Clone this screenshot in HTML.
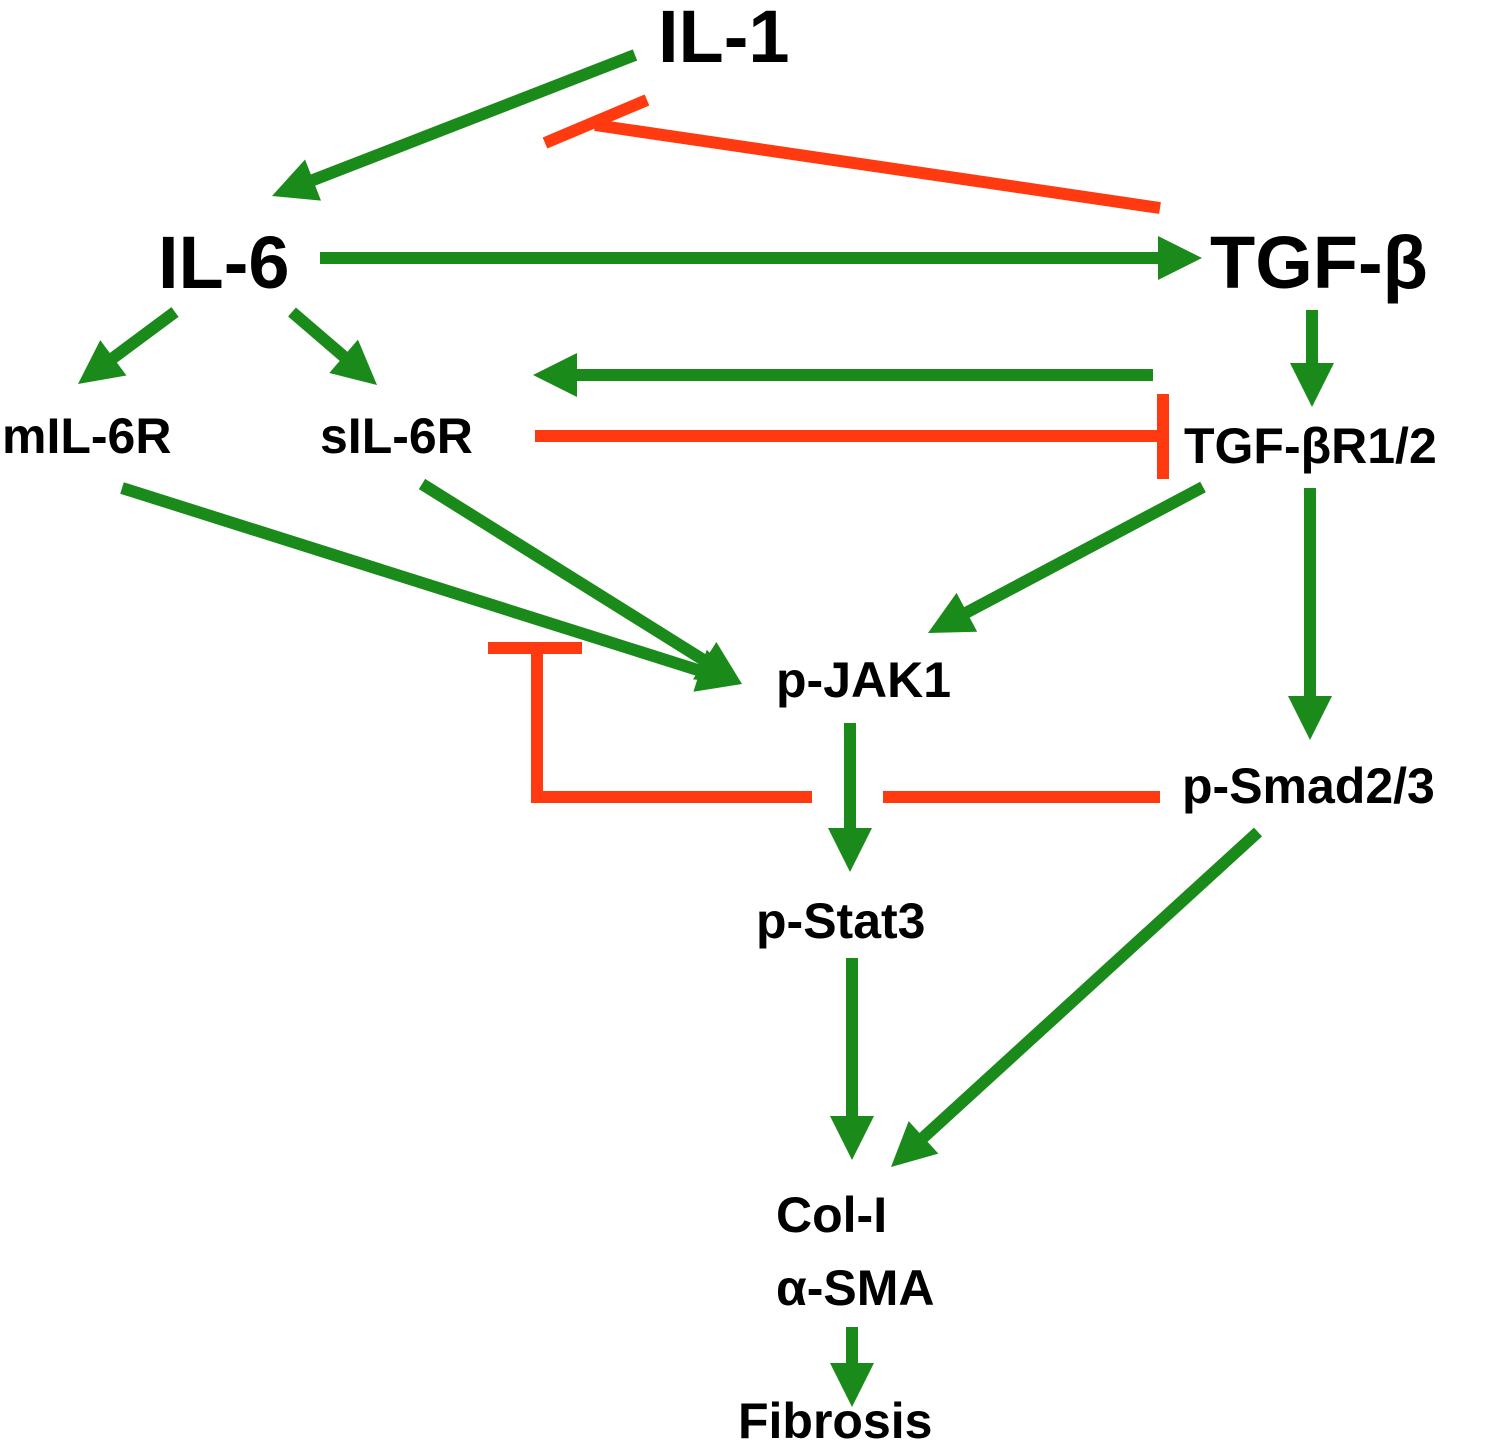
<!DOCTYPE html>
<html><head><meta charset="utf-8"><style>
body{margin:0;background:#fff;}
svg{display:block}
text{font-family:"Liberation Sans",sans-serif;font-weight:bold;fill:#000}
</style></head><body>
<svg id="s" width="1500" height="1450" xmlns="http://www.w3.org/2000/svg">
<text x="658" y="62" font-size="74">IL-1</text>
<text x="158" y="288" font-size="74">IL-6</text>
<text x="1210" y="288" font-size="74">TGF-β</text>
<text x="2" y="453" font-size="50">mIL-6R</text>
<text x="320" y="453" font-size="50">sIL-6R</text>
<text x="1184" y="463" font-size="50">TGF-βR1/2</text>
<text x="776" y="697" font-size="50">p-JAK1</text>
<text x="1182" y="803" font-size="50">p-Smad2/3</text>
<text x="756" y="938" font-size="50">p-Stat3</text>
<text x="776" y="1232" font-size="50">Col-I</text>
<text x="776" y="1305" font-size="50">α-SMA</text>
<text x="738" y="1438" font-size="50">Fibrosis</text>
<g id="g"></g>
</svg>
<script>
var G='#1a8a1a',R='#ff3a10',g=document.getElementById('g'),ns='http://www.w3.org/2000/svg';
function el(t,a){var e=document.createElementNS(ns,t);for(var k in a)e.setAttribute(k,a[k]);g.appendChild(e);}
function ln(x1,y1,x2,y2,c){el('line',{x1:x1,y1:y1,x2:x2,y2:y2,stroke:c,'stroke-width':12});}
function ar(x1,y1,x2,y2){var dx=x2-x1,dy=y2-y1,L=Math.hypot(dx,dy),ux=dx/L,uy=dy/L,h=44,w=22;
var bx=x2-ux*h,by=y2-uy*h;ln(x1,y1,bx+ux*4,by+uy*4,G);
el('polygon',{points:x2+','+y2+' '+(bx-uy*w)+','+(by+ux*w)+' '+(bx+uy*w)+','+(by-ux*w),fill:G});}
ar(635,55,272,196);
ar(320,258,1202,258);
ar(175,312,78,384);
ar(292,312,377,385);
ar(1312,310,1312,407);
ar(1153,375,533,375);
ar(122,488,742,684);
ar(422,484,742,684);
ar(1203,487,928,633);
ar(1310,488,1310,740);
ar(850,723,850,872);
ar(852,958,852,1160);
ar(1258,832,891,1167);
ar(852,1327,852,1407);
ln(535,436,1163,436,R);ln(1163,394,1163,479,R);
ln(1160,797,883,797,R);ln(812,797,531,797,R);ln(537,803,537,648,R);ln(488,648,582,648,R);
ln(1160,208,595,125,R);ln(545,143,647,100,R);
</script>
</body></html>
